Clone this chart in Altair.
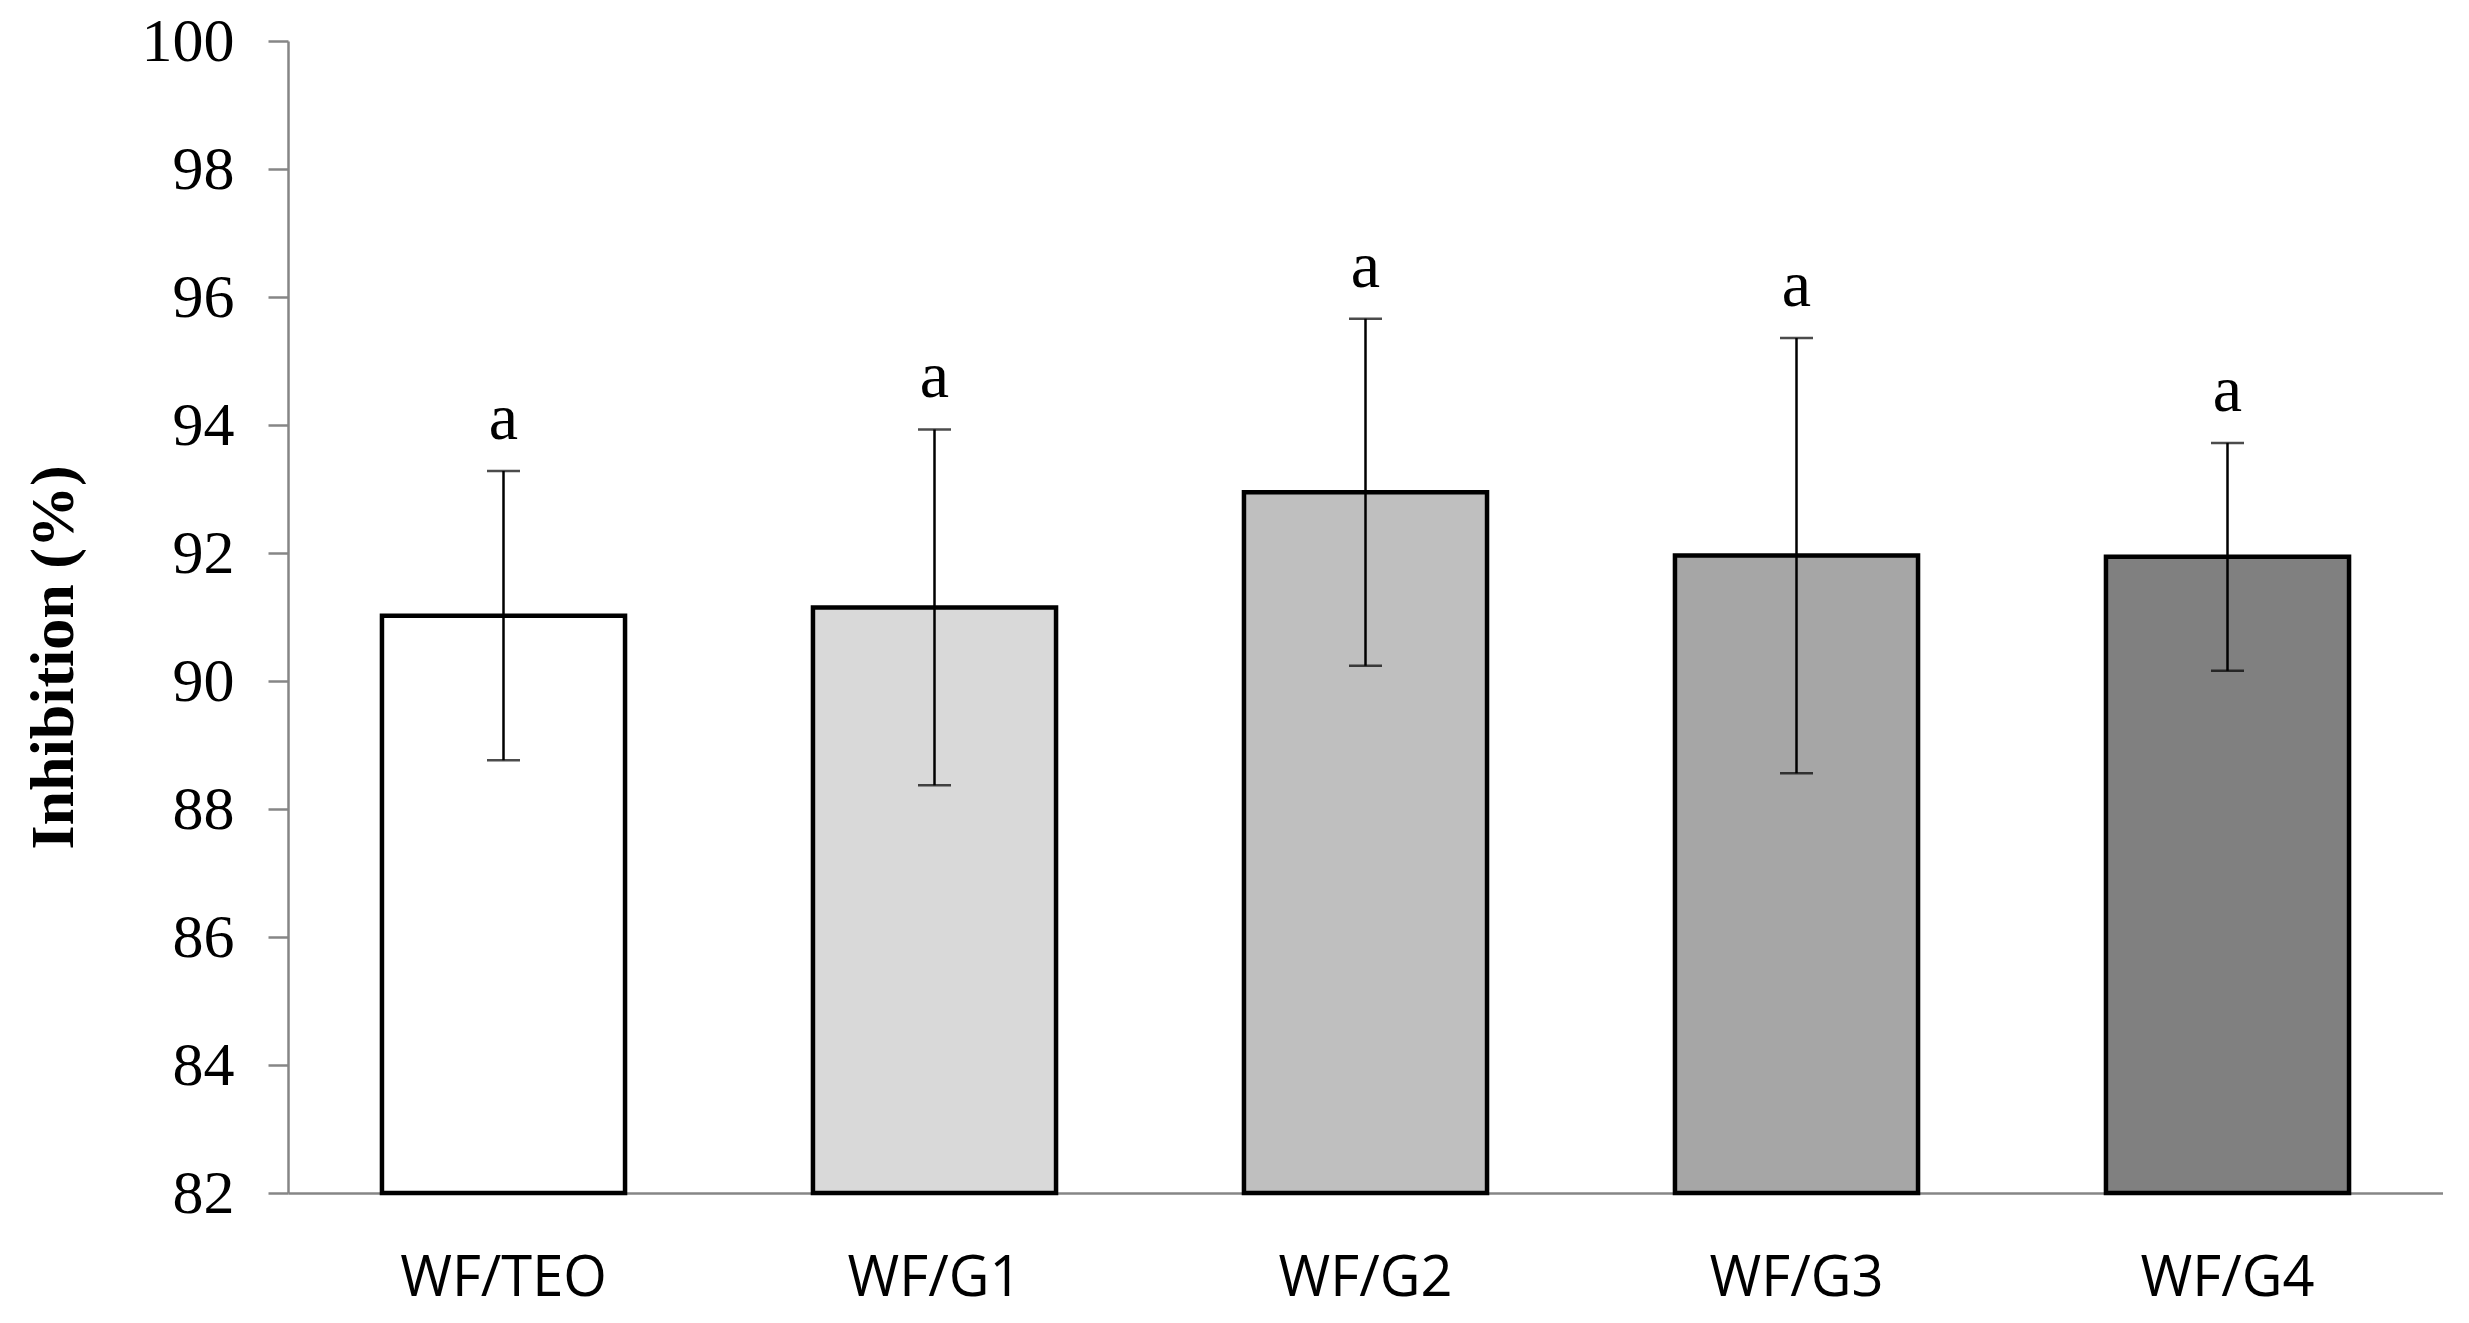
import altair as alt
import pandas as pd

categories = ["WF/TEO", "WF/G1", "WF/G2", "WF/G3", "WF/G4"]
means = [91.02, 91.15, 92.95, 91.96, 91.94]
errors = [2.26, 2.78, 2.71, 3.40, 1.78]
letters = ["a", "a", "a", "a", "a"]
fills = ["#ffffff", "#d9d9d9", "#bfbfbf", "#a6a6a6", "#808080"]
y_ticks = [82, 84, 86, 88, 90, 92, 94, 96, 98, 100]

df = pd.DataFrame({
    "cat": categories,
    "mean": means,
    "lower": [m - e for m, e in zip(means, errors)],
    "upper": [m + e for m, e in zip(means, errors)],
    "letter": letters,
})

W, H = 2155, 1152

x = alt.X(
    "cat:N",
    sort=categories,
    scale=alt.Scale(paddingInner=0.436, paddingOuter=0.218),
    axis=alt.Axis(
        title=None, labelAngle=0, ticks=False, domainColor="#868686", domainWidth=2.5,
        labelFont="Open Sans", labelFontSize=56, labelColor="#000000",
        labelPadding=58, labelBaseline="top", labelLimit=0,
    ),
)

yscale = alt.Scale(domain=[82, 100], nice=False, zero=False)

base = alt.Chart(df)

bars = base.mark_bar(stroke="#000000", strokeWidth=4.5).encode(
    x=x,
    y=alt.Y(
        "mean:Q",
        scale=yscale,
        axis=alt.Axis(
            values=y_ticks, format="d", grid=False,
            domainColor="#868686", domainWidth=2.5,
            tickColor="#868686", tickWidth=2.5, tickSize=20,
            labelFont="Liberation Serif", labelFontSize=62, labelColor="#000000",
            labelPadding=34,
            title="Inhibition (%)", titleFont="Liberation Serif", titleFontSize=62,
            titleFontWeight="bold", titleColor="#000000", titleAngle=-90,
            titleX=-216, titleY=616, titleAlign="center", titleBaseline="alphabetic",
        ),
    ),
    y2=alt.datum(82),
    fill=alt.Fill("cat:N", sort=categories,
                  scale=alt.Scale(domain=categories, range=fills), legend=None),
)

rules = base.mark_rule(color="#000000", strokeWidth=2.5).encode(
    x=alt.X("cat:N", sort=categories),
    y=alt.Y("lower:Q", scale=yscale),
    y2="upper:Q",
)

caps_hi = base.mark_tick(color="#000000", thickness=2.5, size=33).encode(
    x=alt.X("cat:N", sort=categories),
    y=alt.Y("upper:Q", scale=yscale),
)
caps_lo = base.mark_tick(color="#000000", thickness=2.5, size=33).encode(
    x=alt.X("cat:N", sort=categories),
    y=alt.Y("lower:Q", scale=yscale),
)

labels = base.mark_text(
    font="Liberation Serif", fontSize=66, color="#000000",
    baseline="alphabetic", dy=-32,
).encode(
    x=alt.X("cat:N", sort=categories),
    y=alt.Y("upper:Q", scale=yscale),
    text="letter:N",
)

chart = alt.layer(bars, rules, caps_hi, caps_lo, labels).properties(
    width=W, height=H,
    autosize=alt.AutoSizeParams(type="none"),
    padding={"left": 280, "top": 33, "right": 0, "bottom": 122},
    background="#ffffff",
).configure_view(strokeWidth=0)

chart.save("out.html", embed_options={"renderer": "svg", "actions": False})
